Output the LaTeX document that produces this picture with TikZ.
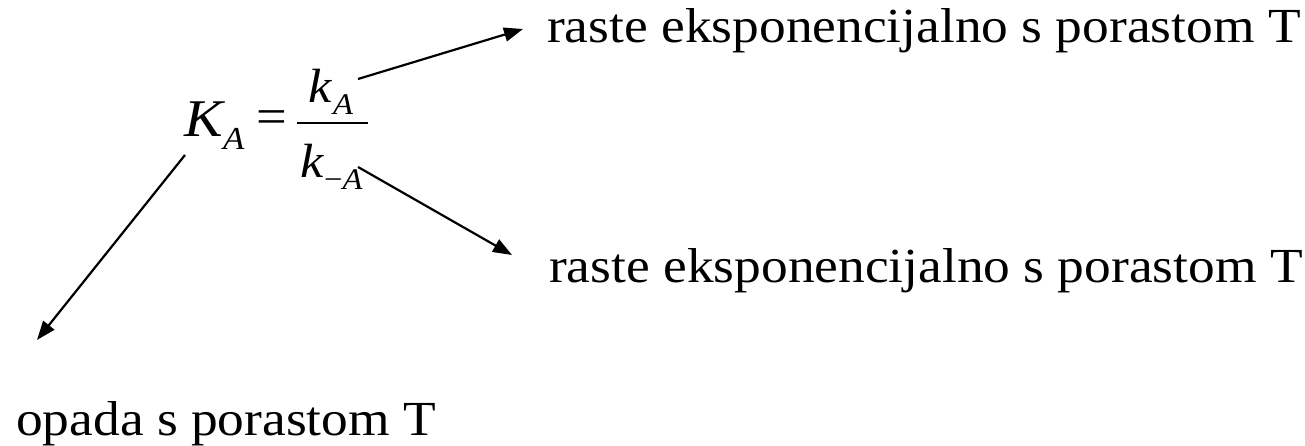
\documentclass[tikz,border=0pt]{standalone}
\usepackage{fontspec}
\setmainfont[FakeStretch=1.09]{Liberation Serif}
\usetikzlibrary{arrows.meta}
\tikzset{
  txt/.style={inner sep=0pt, anchor=base west, font=\fontsize{49}{49}\selectfont},
  mth/.style={inner sep=0pt, anchor=base west},
  conn/.style={line width=2.2pt, -{Triangle[length=19pt,width=14pt]}}
}
\begin{document}
\begin{tikzpicture}[x=1pt,y=-1pt]
\useasboundingbox (0,0) rectangle (1305,446);
% texts
\node[txt] (t1) at (547,43) {raste eksponencijalno s porastom T};
\node[txt] (t2) at (549,282) {raste eksponencijalno s porastom T};
\node[txt] (t3) at (16,435) {opada s porastom T};
% formula
\node[mth, font=\fontsize{53}{53}\selectfont\itshape] (K) at (184,137) {K};
\node[mth, font=\fontsize{32}{32}\selectfont\itshape] (KA) at (223,150) {A};
\node[inner sep=0pt, font=\fontsize{50}{50}\selectfont] (eq) at (271.5,122) {=};
\coordinate (barL) at (297,123);
\coordinate (barR) at (368,123);
\draw[line width=2.2pt] (barL) -- (barR);
\node[mth, font=\fontsize{48}{48}\selectfont\itshape] (kn) at (308,103) {k};
\node[mth, font=\fontsize{30}{30}\selectfont\itshape] (knA) at (333,115) {A};
\node[mth, font=\fontsize{48}{48}\selectfont\itshape] (kd) at (300,178) {k};
\node[mth, font=\fontsize{30}{30}\selectfont] (kdA) at (324,190) {−\textit{A}};
% arrows
\coordinate (s1) at (358,79);
\coordinate (e1) at (523,29);
\coordinate (s2) at (358,167);
\coordinate (e2) at (512,255);
\coordinate (s3) at (185,155);
\coordinate (e3) at (37,340);
\draw[conn] (s1) -- (e1);
\draw[conn] (s2) -- (e2);
\draw[conn] (s3) -- (e3);
\end{tikzpicture}
\end{document}
